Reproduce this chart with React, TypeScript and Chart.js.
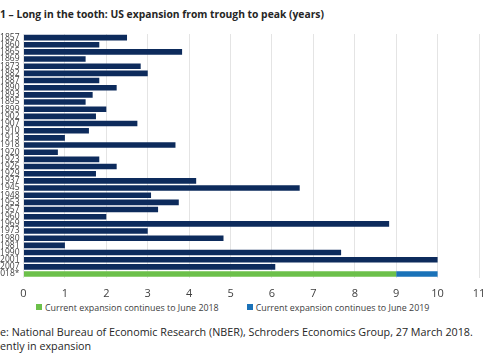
import React, { useEffect, useRef } from "react";
import { Chart, registerables } from "chart.js";

Chart.register(...registerables);

const categories = [
  "1857", "1860", "1865", "1869", "1873", "1882", "1887", "1890", "1893", "1895",
  "1899", "1902", "1907", "1910", "1913", "1918", "1920", "1923", "1926", "1929",
  "1937", "1945", "1948", "1953", "1957", "1960", "1969", "1973", "1980", "1981",
  "1990", "2001", "2007", "2018*",
];

const historicYears = [
  2.5, 1.83, 3.83, 1.5, 2.83, 3.0, 1.83, 2.25, 1.67, 1.5,
  2.0, 1.75, 2.75, 1.58, 1.0, 3.67, 0.83, 1.83, 2.25, 1.75,
  4.17, 6.67, 3.08, 3.75, 3.25, 2.0, 8.83, 3.0, 4.83, 1.0,
  7.67, 10.0, 6.08, null,
];

const toJune2018 = [
  null, null, null, null, null, null, null, null, null, null,
  null, null, null, null, null, null, null, null, null, null,
  null, null, null, null, null, null, null, null, null, null,
  null, null, null, 9.0,
];

const toJune2019 = [
  null, null, null, null, null, null, null, null, null, null,
  null, null, null, null, null, null, null, null, null, null,
  null, null, null, null, null, null, null, null, null, null,
  null, null, null, 1.0,
];

const seriesNames = [
  "Historic expansions",
  "Current expansion continues to June 2018",
  "Current expansion continues to June 2019",
];

const xTicks = [0, 1, 2, 3, 4, 5, 6, 7, 8, 9, 10, 11];

const NAVY = "#0d2b5c";
const GREEN = "#6cc04a";
const BLUE = "#1a72b8";

const FONT = "'Open Sans', 'DejaVu Sans', sans-serif";

export default function App() {
  const ref = useRef<HTMLCanvasElement | null>(null);

  useEffect(() => {
    if (!ref.current) return;
    const chart = new Chart(ref.current, {
      type: "bar",
      data: {
        labels: categories,
        datasets: [
          { label: seriesNames[0], data: historicYears, backgroundColor: NAVY, barPercentage: 0.78, categoryPercentage: 1 },
          { label: seriesNames[1], data: toJune2018, backgroundColor: GREEN, barPercentage: 0.78, categoryPercentage: 1 },
          { label: seriesNames[2], data: toJune2019, backgroundColor: BLUE, barPercentage: 0.78, categoryPercentage: 1 },
        ],
      },
      options: {
        indexAxis: "y",
        animation: false,
        responsive: false,
        maintainAspectRatio: false,
        layout: { padding: { top: 34, left: 27.5, right: 21, bottom: 0.4 } },
        plugins: {
          legend: { display: false },
          tooltip: { enabled: false },
        },
        scales: {
          x: {
            stacked: true,
            min: 0,
            max: 11,
            afterBuildTicks: (scale) => {
              scale.ticks = xTicks.map((v) => ({ value: v }));
            },
            afterFit: (scale) => {
              scale.height = 22;
            },
            grid: { color: "#e4e4e4", drawTicks: false },
            border: { display: false },
            ticks: {
              padding: 10,
              color: "#404040",
              font: { family: FONT, size: 11 },
            },
          },
          y: {
            stacked: true,
            grid: { display: false, drawTicks: false },
            border: { display: false },
            afterFit: (scale) => {
              scale.width = 26;
            },
            ticks: {
              autoSkip: false,
              padding: 4,
              color: "#404040",
              font: { family: FONT, size: 8.5 },
            },
          },
        },
      },
    });
    return () => chart.destroy();
  }, []);

  const textStyle: React.CSSProperties = {
    position: "absolute",
    left: 0,
    whiteSpace: "nowrap",
    fontFamily: FONT,
    color: "#262626",
  };
  const hidden: React.CSSProperties = { position: "absolute", right: "100%" };

  const legendItems = [
    { name: seriesNames[1], color: GREEN, left: 36 },
    { name: seriesNames[2], color: BLUE, left: 246.7 },
  ];

  return (
    <div
      style={{
        position: "absolute",
        left: 0,
        top: 0,
        width: 485,
        height: 360,
        overflow: "hidden",
        background: "#ffffff",
      }}
    >
      <div style={{ ...textStyle, top: 7, fontSize: 10.3, fontWeight: 700 }}>
        1 – Long in the tooth: US expansion from trough to peak (years)
      </div>
      <canvas
        ref={ref}
        width={530}
        height={300}
        style={{ position: "absolute", left: -30, top: 0, width: 530, height: 300 }}
      />
      {legendItems.map((it) => (
        <div
          key={it.name}
          style={{
            position: "absolute",
            left: it.left,
            top: 301,
            height: 12,
            display: "flex",
            alignItems: "center",
            whiteSpace: "nowrap",
            fontFamily: FONT,
            fontSize: 8.9,
            color: "#404040",
          }}
        >
          <span style={{ display: "inline-block", width: 6, height: 6, background: it.color, marginRight: 3 }} />
          <span>{it.name}</span>
        </div>
      ))}
      <div style={{ ...textStyle, top: 324.5, fontSize: 10.75 }}>
        <span style={hidden}>Sourc</span>e: National Bureau of Economic Research (NBER), Schroders Economics Group, 27 March 2018.
      </div>
      <div style={{ ...textStyle, top: 338.5, fontSize: 10.75 }}>
        <span style={hidden}>*Curr</span>ently in expansion
      </div>
    </div>
  );
}
